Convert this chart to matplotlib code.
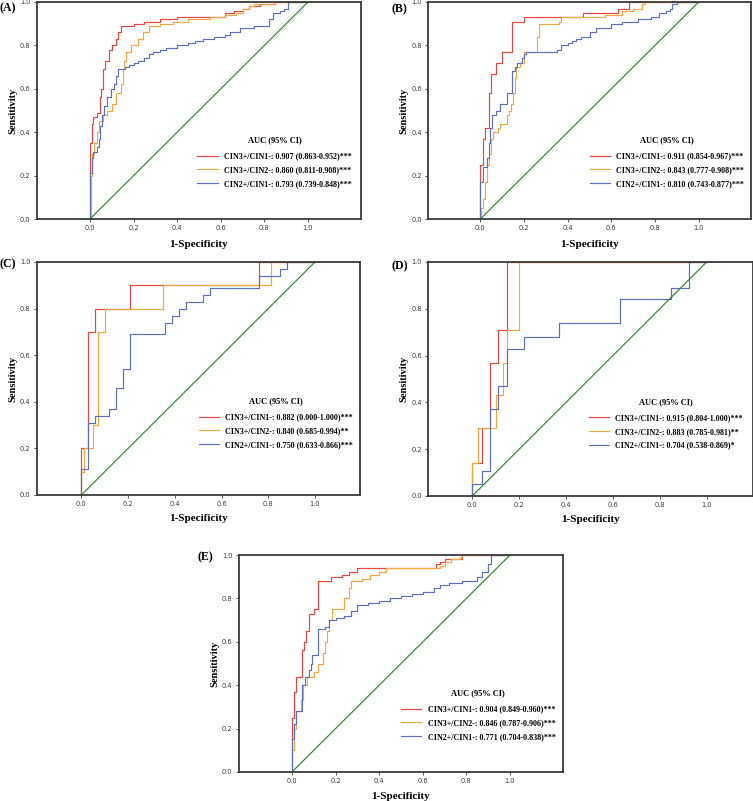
import matplotlib
matplotlib.use("Agg")
import matplotlib.pyplot as plt

# ============================================================================
# DATOS (1-especificidad, sensibilidad)
# ============================================================================

A_red_fpr = [0, 0, 0.008, 0.015, 0.03, 0.045, 0.05, 0.06, 0.07, 0.085, 0.10, 0.12, 0.13, 0.14, 0.20, 0.25, 0.32, 0.40, 0.62, 0.66, 0.70, 0.73, 0.78, 0.85, 1.0]
A_red_tpr = [0, 0.35, 0.44, 0.47, 0.49, 0.56, 0.60, 0.69, 0.73, 0.78, 0.80, 0.83, 0.86, 0.89, 0.90, 0.91, 0.92, 0.93, 0.95, 0.96, 0.97, 0.98, 0.99, 1.0, 1.0]
A_org_fpr = [0, 0.005, 0.01, 0.02, 0.03, 0.04, 0.06, 0.08, 0.10, 0.12, 0.14, 0.15, 0.155, 0.165, 0.19, 0.22, 0.245, 0.27, 0.32, 0.38, 0.45, 0.55, 0.62, 0.67, 0.70, 0.73, 0.75, 0.85, 1.0]
A_org_tpr = [0, 0.20, 0.30, 0.35, 0.40, 0.45, 0.48, 0.50, 0.53, 0.58, 0.62, 0.69, 0.73, 0.77, 0.80, 0.83, 0.86, 0.89, 0.90, 0.91, 0.92, 0.93, 0.94, 0.95, 0.97, 0.98, 0.99, 1.0, 1.0]
A_blu_fpr = [0, 0, 0.01, 0.015, 0.03, 0.04, 0.045, 0.055, 0.065, 0.08, 0.095, 0.11, 0.12, 0.13, 0.16, 0.18, 0.20, 0.22, 0.25, 0.27, 0.29, 0.32, 0.35, 0.40, 0.45, 0.48, 0.52, 0.57, 0.62, 0.64, 0.69, 0.75, 0.82, 0.84, 0.87, 0.89, 0.91, 1.0]
A_blu_tpr = [0, 0.21, 0.28, 0.31, 0.33, 0.37, 0.43, 0.48, 0.52, 0.56, 0.60, 0.62, 0.66, 0.69, 0.70, 0.71, 0.72, 0.73, 0.74, 0.76, 0.77, 0.78, 0.79, 0.80, 0.81, 0.82, 0.83, 0.84, 0.85, 0.86, 0.88, 0.89, 0.92, 0.95, 0.96, 0.97, 1.0, 1.0]
A_labels = ['CIN3+/CIN1-: 0.907 (0.863-0.952)***',
            'CIN3+/CIN2-: 0.860 (0.811-0.908)***',
            'CIN2+/CIN1-: 0.793 (0.739-0.848)***']

B_red_fpr = [0, 0, 0.01, 0.02, 0.04, 0.05, 0.07, 0.10, 0.145, 0.20, 0.47, 0.63, 0.68, 1.0]
B_red_tpr = [0, 0.25, 0.37, 0.42, 0.58, 0.67, 0.72, 0.77, 0.91, 0.93, 0.95, 0.97, 1.0, 1.0]
B_org_fpr = [0, 0.005, 0.01, 0.02, 0.03, 0.04, 0.05, 0.06, 0.08, 0.09, 0.12, 0.13, 0.14, 0.15, 0.16, 0.165, 0.18, 0.20, 0.26, 0.27, 0.36, 0.37, 0.57, 0.65, 0.70, 0.74, 0.755, 1.0]
B_org_tpr = [0, 0.05, 0.09, 0.17, 0.25, 0.30, 0.37, 0.40, 0.42, 0.44, 0.48, 0.50, 0.53, 0.58, 0.65, 0.70, 0.72, 0.77, 0.84, 0.90, 0.91, 0.93, 0.94, 0.96, 0.97, 0.99, 1.0, 1.0]
B_blu_fpr = [0, 0, 0.01, 0.03, 0.04, 0.045, 0.055, 0.07, 0.09, 0.12, 0.145, 0.16, 0.17, 0.19, 0.20, 0.21, 0.35, 0.37, 0.40, 0.42, 0.44, 0.46, 0.50, 0.53, 0.60, 0.65, 0.72, 0.78, 0.82, 0.85, 0.87, 0.88, 0.90, 1.0]
B_blu_tpr = [0, 0.17, 0.24, 0.28, 0.35, 0.42, 0.48, 0.50, 0.53, 0.58, 0.68, 0.70, 0.72, 0.74, 0.76, 0.77, 0.78, 0.80, 0.81, 0.82, 0.83, 0.84, 0.86, 0.88, 0.90, 0.91, 0.92, 0.93, 0.95, 0.96, 0.97, 0.99, 1.0, 1.0]
B_labels = ['CIN3+/CIN1-: 0.911 (0.854-0.967)***',
            'CIN3+/CIN2-: 0.843 (0.777-0.908)***',
            'CIN2+/CIN1-: 0.810 (0.743-0.877)***']

C_red_fpr = [0, 0, 0.03, 0.06, 0.21, 0.76, 1.0]
C_red_tpr = [0, 0.20, 0.70, 0.80, 0.90, 1.0, 1.0]
C_org_fpr = [0, 0, 0.01, 0.05, 0.07, 0.10, 0.35, 0.81, 1.0]
C_org_tpr = [0, 0.10, 0.20, 0.30, 0.70, 0.80, 0.90, 1.0, 1.0]
C_blu_fpr = [0, 0, 0.03, 0.06, 0.12, 0.15, 0.18, 0.21, 0.36, 0.39, 0.42, 0.45, 0.52, 0.55, 0.76, 0.85, 0.88, 1.0]
C_blu_tpr = [0, 0.11, 0.31, 0.34, 0.37, 0.46, 0.54, 0.69, 0.74, 0.77, 0.80, 0.83, 0.86, 0.89, 0.94, 0.97, 1.0, 1.0]
C_labels = ['CIN3+/CIN1-: 0.882 (0.000-1.000)***',
            'CIN3+/CIN2-: 0.840 (0.685-0.994)**',
            'CIN2+/CIN1-: 0.750 (0.633-0.866)***']

D_red_fpr = [0, 0, 0.04, 0.075, 0.11, 0.15, 1.0]
D_red_tpr = [0, 0.14, 0.29, 0.57, 0.71, 1.0, 1.0]
D_org_fpr = [0, 0, 0.025, 0.10, 0.13, 0.15, 0.20, 1.0]
D_org_tpr = [0, 0.14, 0.29, 0.43, 0.57, 0.71, 1.0, 1.0]
D_blu_fpr = [0, 0, 0.04, 0.075, 0.11, 0.15, 0.22, 0.37, 0.63, 0.85, 0.925, 1.0]
D_blu_tpr = [0, 0.05, 0.105, 0.37, 0.47, 0.63, 0.68, 0.74, 0.84, 0.89, 1.0, 1.0]
D_labels = ['CIN3+/CIN1-: 0.915 (0.804-1.000)***',
            'CIN3+/CIN2-: 0.883 (0.785-0.981)**',
            'CIN2+/CIN1-: 0.704 (0.538-0.869)*']

E_red_fpr = [0, 0, 0.01, 0.02, 0.045, 0.055, 0.065, 0.08, 0.10, 0.12, 0.18, 0.23, 0.26, 0.30, 0.66, 0.68, 0.70, 0.78, 1.0]
E_red_tpr = [0, 0.25, 0.37, 0.44, 0.56, 0.60, 0.65, 0.73, 0.75, 0.88, 0.90, 0.91, 0.92, 0.94, 0.96, 0.97, 0.98, 1.0, 1.0]
E_org_fpr = [0, 0, 0.01, 0.02, 0.04, 0.05, 0.07, 0.10, 0.12, 0.14, 0.15, 0.16, 0.17, 0.185, 0.24, 0.26, 0.27, 0.32, 0.36, 0.40, 0.43, 0.68, 0.70, 0.73, 0.77, 0.78, 1.0]
E_org_tpr = [0, 0.10, 0.20, 0.28, 0.33, 0.40, 0.44, 0.46, 0.50, 0.55, 0.60, 0.65, 0.70, 0.75, 0.80, 0.85, 0.88, 0.89, 0.91, 0.92, 0.94, 0.95, 0.97, 0.98, 0.99, 1.0, 1.0]
E_blu_fpr = [0, 0, 0.01, 0.02, 0.045, 0.06, 0.08, 0.085, 0.09, 0.12, 0.15, 0.17, 0.20, 0.24, 0.27, 0.30, 0.35, 0.40, 0.45, 0.50, 0.55, 0.60, 0.65, 0.68, 0.72, 0.78, 0.85, 0.87, 0.90, 0.915, 1.0]
E_blu_tpr = [0, 0.15, 0.22, 0.28, 0.40, 0.44, 0.47, 0.50, 0.54, 0.66, 0.67, 0.70, 0.71, 0.72, 0.74, 0.77, 0.78, 0.79, 0.80, 0.81, 0.82, 0.83, 0.85, 0.86, 0.87, 0.88, 0.90, 0.92, 0.96, 1.0, 1.0]
E_labels = ['CIN3+/CIN1-: 0.904 (0.849-0.960)***',
            'CIN3+/CIN2-: 0.846 (0.787-0.906)***',
            'CIN2+/CIN1-: 0.771 (0.704-0.838)***']

ticks = [0.0, 0.2, 0.4, 0.6, 0.8, 1.0]

# ============================================================================
# ESTILO
# ============================================================================

COL_RED = '#e8453f'
COL_ORG = '#f4a640'
COL_BLU = '#5d6fc0'
COL_GRN = '#2a8a2a'
FRAME = '#3a3a3a'
SERIF = 'Liberation Serif'


def draw_panel(ax, curves, labels, xlim, leg_anchor, label_xy):
    for (fpr, tpr), col in zip(curves, [COL_RED, COL_ORG, COL_BLU]):
        ax.plot(fpr, tpr, drawstyle='steps-post', color=col, linewidth=0.85)
    ax.plot([0, 1], [0, 1], color=COL_GRN, linewidth=0.85)

    ax.set_xlim(*xlim)
    ax.set_ylim(0, 1)
    ax.set_xticks(ticks)
    ax.set_yticks(ticks)
    ax.set_xticklabels([f'{t:.1f}' for t in ticks])
    ax.set_yticklabels([f'{t:.1f}' for t in ticks])
    ax.tick_params(labelsize=4.8, length=2.5, width=0.6, colors=FRAME, pad=2)
    for s in ax.spines.values():
        s.set_color(FRAME)
        s.set_linewidth(1.3)

    ax.set_xlabel('1-Specificity', family=SERIF, fontweight='bold', fontsize=8)
    ax.set_ylabel('Sensitivity', family=SERIF, fontweight='bold', fontsize=7.5)
    ax.xaxis.set_label_coords(0.5, label_xy[1])
    ax.yaxis.set_label_coords(label_xy[0], 0.5)

    leg = ax.legend(labels, loc='upper left', bbox_to_anchor=leg_anchor,
                    frameon=False, title='AUC (95% CI)', handlelength=2.5,
                    handletextpad=0.8, labelspacing=0.72, borderpad=0,
                    borderaxespad=0,
                    prop={'family': SERIF, 'weight': 'bold', 'size': 5.8})
    leg.get_title().set_fontproperties({'family': SERIF, 'weight': 'bold', 'size': 6})
    leg._legend_box.sep = 6


fig = plt.figure(figsize=(7.53, 8.01), dpi=100)
W, H = 753.0, 801.0


def px_axes(left, top, right, bottom):
    return fig.add_axes([left / W, 1 - bottom / H, (right - left) / W, (bottom - top) / H])


axA = px_axes(37, 2, 361, 219)
axB = px_axes(428, 2, 751, 219)
axC = px_axes(37, 262, 360, 495)
axD = px_axes(428, 262, 753, 496)
axE = px_axes(239, 555, 563, 772)

draw_panel(axA, [(A_red_fpr, A_red_tpr), (A_org_fpr, A_org_tpr), (A_blu_fpr, A_blu_tpr)],
           A_labels, (-0.243, 1.243), (0.495, 0.382), (-0.06, -0.095))
draw_panel(axB, [(B_red_fpr, B_red_tpr), (B_org_fpr, B_org_tpr), (B_blu_fpr, B_blu_tpr)],
           B_labels, (-0.24, 1.24), (0.50, 0.382), (-0.06, -0.095))
draw_panel(axC, [(C_red_fpr, C_red_tpr), (C_org_fpr, C_org_tpr), (C_blu_fpr, C_blu_tpr)],
           C_labels, (-0.19, 1.193), (0.50, 0.42), (-0.06, -0.082))
draw_panel(axD, [(D_red_fpr, D_red_tpr), (D_org_fpr, D_org_tpr), (D_blu_fpr, D_blu_tpr)],
           D_labels, (-0.189, 1.198), (0.495, 0.42), (-0.06, -0.082))
draw_panel(axE, [(E_red_fpr, E_red_tpr), (E_org_fpr, E_org_tpr), (E_blu_fpr, E_blu_tpr)],
           E_labels, (-0.243, 1.243), (0.50, 0.382), (-0.06, -0.09))

# etiquetas de panel
for txt, x, y in [('(A)', 0, 8), ('(B)', 392, 9), ('(C)', 0, 264),
                  ('(D)', 392, 266), ('(E)', 197, 557)]:
    fig.text(x / W, 1 - y / H, txt, family=SERIF, fontweight='bold',
             fontsize=8.5, ha='left', va='center')

fig.savefig('out.png', dpi=100)
